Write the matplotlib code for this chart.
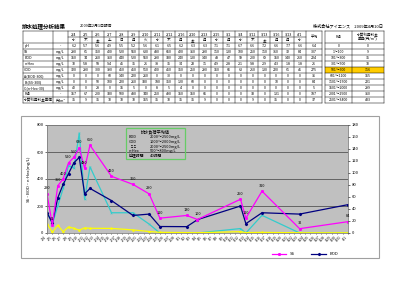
import matplotlib
matplotlib.use("Agg")
import matplotlib.pyplot as plt
from matplotlib.patches import Rectangle
from matplotlib.lines import Line2D

plt.rcParams['font.family'] = ['Noto Sans CJK JP', 'DejaVu Sans']

# ---------------- data ----------------
axis_dates = [f"2/{d}" for d in range(4, 29)] + [f"3/{d}" for d in range(1, 32)] + ["4/1"]
sample_dates = ["2/4", "2/5", "2/6", "2/7", "2/8", "2/9", "2/10", "2/11", "2/12", "2/16",
                "2/20", "2/23", "2/25", "3/2", "3/4", "3/12", "3/13", "3/16", "3/23", "4/1"]
weekdays = ["水", "木", "金", "土", "日", "月", "火", "水", "木", "月",
            "金", "月", "水", "月", "水", "木", "金", "月", "月", "水"]
ph = [6.2, 5.7, 5.6, 4.9, 5.5, 5.2, 5.6, 6.1, 6.5, 6.2, 6.3, 6.3, 7.1, 7.1, 6.7, 6.6, 7.2, 6.6, 7.7, 6.6]
ss = [290, 61, 350, 400, 520, 560, 630, 480, 650, 420, 360, 290, 110, 130, 100, 250, 110, 310, 32, 84]
bod = [150, 74, 260, 360, 440, 520, 560, 290, 330, 240, 130, 140, 48, 47, 99, 200, 69, 150, 140, 210]
nhex = [70, 5.8, 58, 9.4, 45, 35, 21, 38, 35, 34, 23, 11, 4.9, 2.8, 2.1, 9.8, 2.9, 4.3, 1.8, 1.8]
cod = [320, 290, 300, 390, 450, 450, 510, 400, 450, 350, 250, 290, 160, 66, 63, 210, 130, 220, 61, 41]
a_excess = [0, 0, 0, 60, 140, 220, 260, 0, 30, 0, 0, 0, 0, 0, 0, 0, 0, 0, 0, 0]
b_excess = [0, 0, 50, 100, 220, 260, 330, 180, 350, 120, 60, 0, 0, 0, 0, 0, 0, 10, 0, 0]
c_excess = [40, 0, 28, 0, 15, 5, 0, 8, 5, 4, 0, 0, 0, 0, 0, 0, 0, 0, 0, 0]
f_value = [157, 67, 200, 330, 500, 480, 740, 250, 490, 150, 150, 66, 0, 0, 0, 33, 0, 131, 0, 0]
unit_price = [35, 9, 35, 70, 70, 70, 165, 35, 70, 35, 35, 9, 0, 0, 0, 9, 0, 35, 0, 0]
averages = ["6.4", "307", "224", "21", "275", "36", "84", "5", "187", "37"]

fee_ranges = ["0", "1～100", "101～300", "301～500", "501～600", "601～1100",
              "1101～1500", "1501～2000", "2001～2500", "2501～3400"]
fee_prices = [0, 9, 35, 70, 116, 165, 221, 299, 360, 433]
fee_highlight = "501～600"

load_items = ["BOD", "COD", "ＳＳ", "n-Hex", "処理時間"]
load_values = ["2000～2500mg/L", "1000～2000mg/L", "2000～2500mg/L", "500～800mg/L", "40時間"]

# ---------------- figure ----------------
W, H = 400, 283
fig = plt.figure(figsize=(4, 2.83), dpi=100)
bg = fig.add_axes([0, 0, 1, 1])
bg.set_xlim(0, W); bg.set_ylim(H, 0); bg.axis('off')

bg.text(22, 26, "排水処理分析結果", fontsize=4.0, fontweight='bold', va='center', ha='left')
bg.text(80, 26, "2009年2月1日報告", fontsize=2.8, va='center', ha='left')
bg.text(383, 26, "株式会社アイエンス　2009年4月10日", fontsize=3.0, va='center', ha='right')

# ---- table ----
fs = 2.6
lw = 0.35
top = 31
rh = 6
ncol = len(sample_dates)
x_label, x_unit, x_first = 23, 53, 68
cw = (306 - x_first) / ncol
x_avg_l, x_avg_r = 306, 322
col_edges = [x_first + cw * i for i in range(ncol + 1)]

rows = [
    ("pH", "-", ph, "{:.1f}"),
    ("SS", "mg/L", ss, "{:g}"),
    ("BOD", "mg/L", bod, "{:g}"),
    ("n-Hex", "mg/L", nhex, "{:g}"),
    ("COD", "mg/L", cod, "{:g}"),
    ("A:(BOD-300)", "mg/L", a_excess, "{:g}"),
    ("B:(SS-300)", "mg/L", b_excess, "{:g}"),
    ("C:(n-Hex-30)", "mg/L", c_excess, "{:g}"),
    ("F値", "-", f_value, "{:g}"),
    ("水質利用料金単価", "円/m³", unit_price, "{:g}"),
]
nrows = 2 + len(rows)
bottom = top + rh * nrows

# highlight in right table
hi_row = fee_ranges.index(fee_highlight)
bg.add_patch(Rectangle((325, top + rh * (2 + hi_row)), 59, rh, facecolor='#ffcc00', edgecolor='none'))

# horizontal lines main table
for r in range(nrows + 1):
    y = top + rh * r
    if r == 1:
        bg.plot([x_first, x_avg_l], [y, y], color='k', lw=lw)
    else:
        bg.plot([x_label, x_avg_r], [y, y], color='k', lw=lw)
# vertical lines main table
for x in [x_label, x_unit]:
    bg.plot([x, x], [top, bottom], color='k', lw=lw)
for x in col_edges + [x_avg_r]:
    bg.plot([x, x], [top, bottom], color='k', lw=lw)

# headers
for i in range(ncol):
    cx = (col_edges[i] + col_edges[i + 1]) / 2
    bg.text(cx, top + rh * 0.5, sample_dates[i], fontsize=fs, ha='center', va='center')
    bg.text(cx, top + rh * 1.5, weekdays[i], fontsize=fs, ha='center', va='center')
bg.text((x_avg_l + x_avg_r) / 2, top + rh, "平均", fontsize=fs, ha='center', va='center')

for r, (lab, unit, vals, fmt) in enumerate(rows):
    cy = top + rh * (2 + r + 0.5)
    bg.text(x_label + 1.2, cy, lab, fontsize=fs, ha='left', va='center')
    bg.text((x_unit + x_first) / 2, cy, unit, fontsize=fs, ha='center', va='center')
    for i, v in enumerate(vals):
        cx = (col_edges[i] + col_edges[i + 1]) / 2
        bg.text(cx, cy, fmt.format(v), fontsize=fs, ha='center', va='center')
    bg.text((x_avg_l + x_avg_r) / 2, cy, averages[r], fontsize=fs, ha='center', va='center')

# right fee table
rx = [325, 352, 384]
for r in range(nrows + 1):
    if r == 1:
        continue
    y = top + rh * r
    bg.plot([rx[0], rx[2]], [y, y], color='k', lw=lw)
for x in rx:
    bg.plot([x, x], [top, bottom], color='k', lw=lw)
bg.text((rx[0] + rx[1]) / 2, top + rh, "F値", fontsize=fs, ha='center', va='center')
bg.text((rx[1] + rx[2]) / 2, top + rh, "水質利用料金\n単価(円/m³)", fontsize=fs, ha='center', va='center',
        linespacing=1.1)
for r, (rng, price) in enumerate(zip(fee_ranges, fee_prices)):
    cy = top + rh * (2 + r + 0.5)
    bg.text((rx[0] + rx[1]) / 2, cy, rng, fontsize=fs, ha='center', va='center')
    bg.text((rx[1] + rx[2]) / 2, cy, str(price), fontsize=fs, ha='center', va='center')

# chart frame
bg.add_patch(Rectangle((21, 116), 358, 142, facecolor='white', edgecolor='#a0a0a0', lw=0.8))

# ---- chart ----
ax = fig.add_axes([47 / W, 1 - 233 / H, 301 / W, 108 / H])
ax.set_facecolor('#c0c0c0')
xi = [axis_dates.index(d) for d in sample_dates]
ax.set_xlim(0, len(axis_dates) - 1)
ax.set_ylim(0, 800)
ax.set_yticks(range(0, 801, 200))
ax.yaxis.grid(True, color='#404040', lw=0.5)
ax.set_axisbelow(True)
for s in ax.spines.values():
    s.set_color('#808080'); s.set_linewidth(0.6)

ax.plot(xi, f_value, color='#33cccc', lw=0.9, marker='x', ms=1.2, mew=0.4)
ax.plot(xi, nhex, color='#ffff00', lw=0.9, marker='^', ms=1.0)
bod_line, = ax.plot(xi, bod, color='#000080', lw=0.9, marker='D', ms=1.1, label='BOD')
ss_line, = ax.plot(xi, ss, color='#ff00ff', lw=0.9, marker='s', ms=1.1, label='SS')
for x, v in zip(xi, ss):
    ax.annotate(str(v), (x, v), xytext=(0, 2.5), textcoords='offset points',
                fontsize=2.8, ha='center', va='bottom')

ax.set_xticks(range(len(axis_dates)))
ax.set_xticklabels(axis_dates, rotation=45, ha='right', fontsize=2.4)
ax.tick_params(axis='x', length=1, width=0.4, pad=0.5)
ax.tick_params(axis='y', labelsize=3, length=1.5, width=0.4, pad=1)
ax.set_ylabel("SS・BOD・n-Hex(mg/L)", fontsize=3, labelpad=4)

ax2 = ax.twinx()
ax2.set_ylim(0, 180)
ax2.set_yticks(range(0, 181, 20))
ax2.tick_params(axis='y', labelsize=3, length=1.5, width=0.4, pad=1)
for s in ax2.spines.values():
    s.set_visible(False)

fig.legend(handles=[ss_line, bod_line], labels=['SS', 'BOD'], loc='center',
           bbox_to_anchor=(305 / W, 1 - 254 / H), ncol=2, fontsize=3, frameon=False,
           handlelength=3.5, columnspacing=4, handletextpad=0.8)

# ---- overlay: load average box ----
ov = fig.add_axes([0, 0, 1, 1])
ov.set_xlim(0, W); ov.set_ylim(H, 0); ov.axis('off'); ov.patch.set_alpha(0)
ov.add_patch(Rectangle((126, 128), 59, 31, facecolor='none', edgecolor='#66cc66', lw=0.9))
ov.text(155.5, 132, "排水負荷平均値", fontsize=3, ha='center', va='center')
for k, (item, val) in enumerate(zip(load_items, load_values)):
    y = 137 + k * 4.8
    ov.text(129, y, item, fontsize=2.8, ha='left', va='center')
    ov.text(150, y, val, fontsize=2.8, ha='left', va='center')

fig.savefig("out.png", dpi=100)
